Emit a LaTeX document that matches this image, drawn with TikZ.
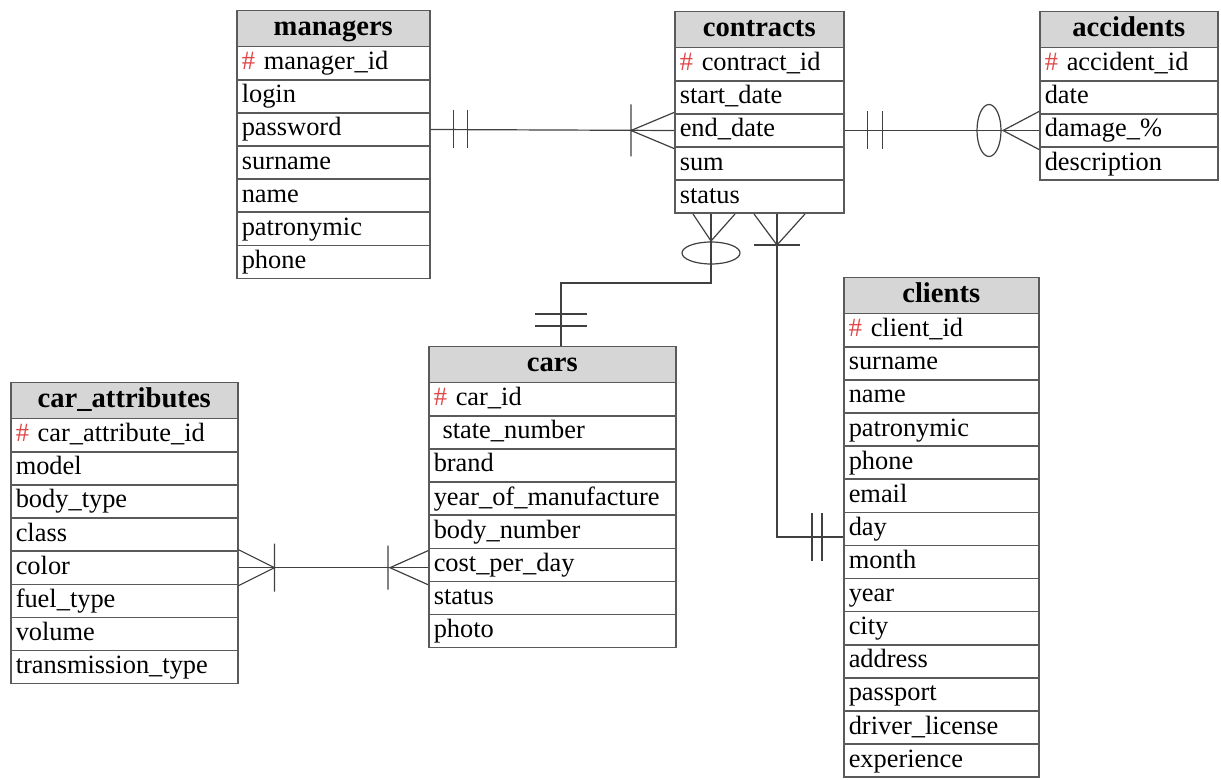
\documentclass[tikz,border=0pt]{standalone}
\usepackage{fontspec}
\setmainfont{LiberationSerif}[Extension=.ttf,UprightFont=*-Regular,BoldFont=*-Bold,ItalicFont=*-Italic,BoldItalicFont=*-BoldItalic]
\usetikzlibrary{calc}
\definecolor{grid}{HTML}{5A5A5A}
\definecolor{head}{HTML}{D6D6D6}
\definecolor{pkred}{HTML}{E04848}
\tikzset{
  tbl/.style={draw=grid,line width=0.75pt,anchor=north west,inner xsep=2.5pt,inner ysep=0pt},
  thead/.style={tbl,fill=head,minimum height=18pt,align=center,font=\fontsize{14.3}{16}\selectfont\bfseries,text height=10pt,text depth=3pt},
  tfield/.style={tbl,fill=white,minimum height=16.55pt,align=left,font=\fontsize{13.2}{15}\selectfont,text height=9.5pt,text depth=3pt},
  rel/.style={draw=black!75,line width=0.6pt},
}
\newcommand{\pk}{\textcolor{pkred}{\#}\ }
% name, left, top, width (px), title, fields
\newcommand{\erdtable}[6]{%
  \node[thead,text width=#4*0.5pt-5pt] (#1-h) at (#2,#3) {#5};
  \foreach \f [count=\i] in {#6}
    \node[tfield,text width=#4*0.5pt-5pt] (#1-\i) at (#2,{#3+36+(\i-1)*33.1}) {\f};
}

\begin{document}
\begin{tikzpicture}[x=0.5pt,y=-0.5pt]
\useasboundingbox (0,0) rectangle (1221,780);

% tables
\erdtable{managers}{236}{10}{193}{managers}{\pk manager\_id,login,password,surname,name,patronymic,phone}
\erdtable{contracts}{674}{11}{169}{contracts}{\pk contract\_id,start\_date,end\_date,sum,status}
\erdtable{accidents}{1039}{11}{178}{accidents}{\pk accident\_id,date,damage\_\%,description}
\erdtable{clients}{843}{277}{195}{clients}{\pk client\_id,surname,name,patronymic,phone,email,day,month,year,city,address,passport,driver\_license,experience}
\erdtable{cars}{428}{346}{247}{cars}{\pk car\_id,\ state\_number,brand,year\_of\_manufacture,body\_number,cost\_per\_day,status,photo}
\erdtable{attrs}{10}{382}{227}{car\_attributes}{\pk car\_attribute\_id,model,body\_type,class,color,fuel\_type,volume,transmission\_type}

% managers -- contracts
\draw[rel] (managers-3.east) -- (contracts-3.west);
\draw[rel] ($(managers-3.east)+(23,-19)$) -- ++(0,38) ($(managers-3.east)+(37,-19)$) -- ++(0,38);
\draw[rel] ($(contracts-3.west)+(0,-18)$) -- ++(-43,18) -- ++(43,18) ($(contracts-3.west)+(-43,-26)$) -- ++(0,52);

% contracts -- accidents
\draw[rel] (contracts-3.east) -- (accidents-3.west);
\draw[rel] ($(contracts-3.east)+(23,-19)$) -- ++(0,38) ($(contracts-3.east)+(38,-19)$) -- ++(0,38);
\draw[rel] ($(accidents-3.west)+(0,-19)$) -- ++(-36,19) -- ++(36,19);
\draw[rel] ($(accidents-3.west)+(-50,0)$) ellipse [x radius=6pt,y radius=13pt];

% contracts -- cars
\coordinate (c1) at ($(contracts-5.south west)+(37,27)$);
\draw[rel] ($(contracts-5.south west)+(19,0)$) -- (c1) -- ($(contracts-5.south west)+(61,0)$);
\draw[rel] ($(contracts-5.south west)+(37,0)$) -- ++(0,69) -| ($(cars-h.north west)+(133,0)$);
\draw[rel] ($(contracts-5.south west)+(37,39)$) ellipse [x radius=14.5pt,y radius=5.5pt];
\draw[rel] ($(cars-h.north west)+(107,-32)$) -- ++(52,0) ($(cars-h.north west)+(107,-20)$) -- ++(52,0);

% contracts -- clients
\coordinate (c2) at ($(contracts-5.south west)+(103,31)$);
\coordinate (d1) at ($(clients-7.west)+(0,8)$);
\draw[rel] ($(contracts-5.south west)+(80,0)$) -- (c2) -- ($(contracts-5.south west)+(131,0)$);
\draw[rel] ($(c2)+(-23,0)$) -- ++(46,0);
\draw[rel] ($(contracts-5.south west)+(103,0)$) |- (d1);
\draw[rel] ($(d1)+(-31,-24)$) -- ++(0,48) ($(d1)+(-21,-24)$) -- ++(0,48);

% car_attributes -- cars
\coordinate (r1) at (attrs-5.east -| cars-6.west);
\draw[rel] (attrs-5.east) -- (r1);
\draw[rel] ($(attrs-5.east)+(0,-18)$) -- ++(36,18) -- ++(-36,18) ($(attrs-5.east)+(36,-24)$) -- ++(0,48);
\draw[rel] ($(r1)+(0,-17)$) -- ++(-38,17) -- ++(38,17) ($(r1)+(-40,-22)$) -- ++(0,44);
\end{tikzpicture}
\end{document}
